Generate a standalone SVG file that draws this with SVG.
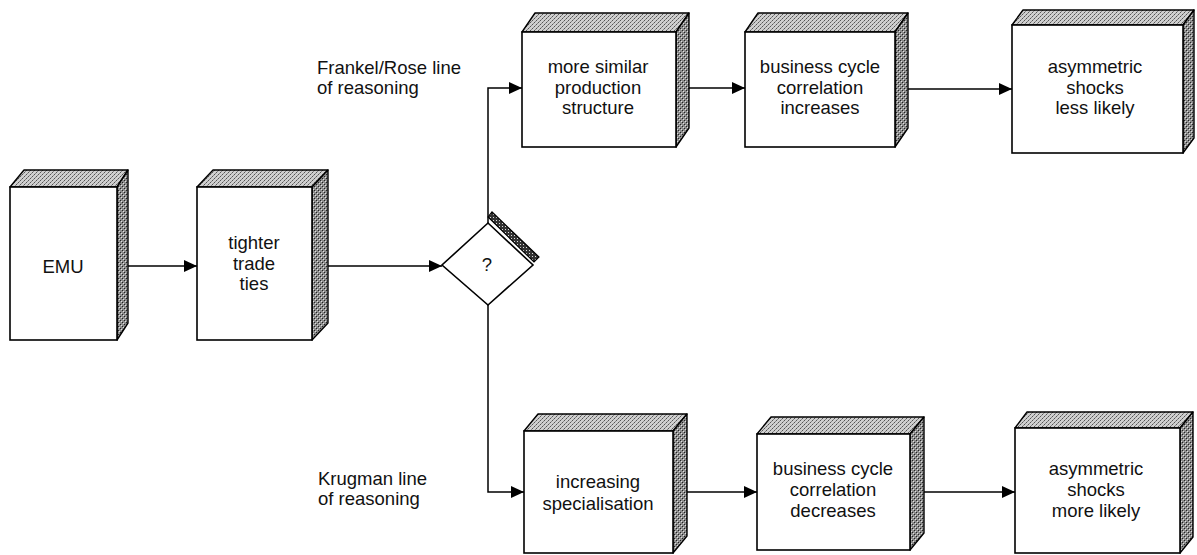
<svg xmlns="http://www.w3.org/2000/svg" width="1197" height="555" viewBox="0 0 1197 555">
  <defs>
    <pattern id="topShade" width="4" height="4" patternUnits="userSpaceOnUse">
      <rect width="4" height="4" fill="#cfcfcf"/>
      <rect x="0" y="0" width="1" height="1" fill="#555"/>
      <rect x="2" y="2" width="1" height="1" fill="#555"/>
      <rect x="3" y="1" width="1" height="1" fill="#888"/>
      <rect x="1" y="3" width="1" height="1" fill="#888"/>
    </pattern>
    <pattern id="sideShade" width="4" height="4" patternUnits="userSpaceOnUse">
      <rect width="4" height="4" fill="#8c8c8c"/>
      <rect x="0" y="0" width="1" height="1" fill="#222"/>
      <rect x="2" y="2" width="1" height="1" fill="#222"/>
      <rect x="1" y="1" width="1" height="1" fill="#e0e0e0"/>
      <rect x="3" y="3" width="1" height="1" fill="#e0e0e0"/>
    </pattern>
    <pattern id="stripShade" width="3" height="3" patternUnits="userSpaceOnUse">
      <rect width="3" height="3" fill="#333"/>
      <rect x="1" y="1" width="1" height="1" fill="#ddd"/>
    </pattern>
    <marker id="arr" markerWidth="13" markerHeight="12" refX="13" refY="6" orient="auto" markerUnits="userSpaceOnUse">
      <path d="M0,0 L13,6 L0,12 z" fill="#000"/>
    </marker>
  </defs>
  <style>
    .front { fill: #fff; stroke: #000; stroke-width: 1.6; }
    .top { fill: url(#topShade); stroke: #000; stroke-width: 1.4; stroke-linejoin: round; }
    .side { fill: url(#sideShade); stroke: #000; stroke-width: 1.4; stroke-linejoin: round; }
    .lbl { font-family: "Liberation Sans", Arial, sans-serif; font-size: 18.5px; fill: #111; text-anchor: middle; }
    .side-lbl { font-family: "Liberation Sans", Arial, sans-serif; font-size: 18.5px; fill: #111; }
    .conn { fill: none; stroke: #000; stroke-width: 1.5; }
  </style>

  <g id="connectors">
    <path class="conn" d="M128,266 H197" marker-end="url(#arr)"/>
    <path class="conn" d="M328,266 H442" marker-end="url(#arr)"/>
    <path class="conn" d="M488,223 V88 H522" marker-end="url(#arr)"/>
    <path class="conn" d="M689,88 H745" marker-end="url(#arr)"/>
    <path class="conn" d="M908,89 H1012" marker-end="url(#arr)"/>
    <path class="conn" d="M488,305 V492 H524" marker-end="url(#arr)"/>
    <path class="conn" d="M687,492 H757" marker-end="url(#arr)"/>
    <path class="conn" d="M924,492 H1015" marker-end="url(#arr)"/>
  </g>

  <g id="node-emu">
    <polygon class="top" points="10,187 24,170 128,170 117,187"/>
    <polygon class="side" points="117,187 128,170 128,323 117,340"/>
    <rect class="front" x="10" y="187" width="107" height="153"/>
    <text class="lbl" x="63" y="273">EMU</text>
  </g>

  <g id="node-trade">
    <polygon class="top" points="197,187 213,170 328,170 312,187"/>
    <polygon class="side" points="312,187 328,170 328,323 312,340"/>
    <rect class="front" x="197" y="187" width="115" height="153"/>
    <text class="lbl" x="254" y="249">tighter</text>
    <text class="lbl" x="254" y="270">trade</text>
    <text class="lbl" x="254" y="290">ties</text>
  </g>

  <g id="node-decision">
    <polygon points="488,217 492,212 539,257 534,262" fill="url(#stripShade)" stroke="#000" stroke-width="1.2"/>
    <polygon points="488,223 533,265 488,305 442,265" fill="#fff" stroke="#000" stroke-width="1.6"/>
    <text class="lbl" x="487" y="271">?</text>
  </g>

  <g id="label-frankel">
    <text class="side-lbl" x="317" y="74">Frankel/Rose line</text>
    <text class="side-lbl" x="317" y="94">of reasoning</text>
  </g>

  <g id="label-krugman">
    <text class="side-lbl" x="318" y="485">Krugman line</text>
    <text class="side-lbl" x="318" y="505">of reasoning</text>
  </g>

  <g id="node-similar">
    <polygon class="top" points="522,32 535,13 689,13 676,32"/>
    <polygon class="side" points="676,32 689,13 689,128 676,147"/>
    <rect class="front" x="522" y="32" width="154" height="115"/>
    <text class="lbl" x="598" y="73">more similar</text>
    <text class="lbl" x="598" y="94">production</text>
    <text class="lbl" x="598" y="114">structure</text>
  </g>

  <g id="node-bc-up">
    <polygon class="top" points="745,32 758,13 908,13 895,32"/>
    <polygon class="side" points="895,32 908,13 908,128 895,147"/>
    <rect class="front" x="745" y="32" width="150" height="115"/>
    <text class="lbl" x="820" y="73">business cycle</text>
    <text class="lbl" x="820" y="94">correlation</text>
    <text class="lbl" x="820" y="114">increases</text>
  </g>

  <g id="node-asym-less">
    <polygon class="top" points="1012,25 1023,10 1194,10 1183,25"/>
    <polygon class="side" points="1183,25 1194,10 1194,138 1183,153"/>
    <rect class="front" x="1012" y="25" width="171" height="128"/>
    <text class="lbl" x="1095" y="73">asymmetric</text>
    <text class="lbl" x="1095" y="94">shocks</text>
    <text class="lbl" x="1095" y="114">less likely</text>
  </g>

  <g id="node-special">
    <polygon class="top" points="524,431 538,414 687,414 673,431"/>
    <polygon class="side" points="673,431 687,414 687,536 673,553"/>
    <rect class="front" x="524" y="431" width="149" height="122"/>
    <text class="lbl" x="598" y="488">increasing</text>
    <text class="lbl" x="598" y="510">specialisation</text>
  </g>

  <g id="node-bc-down">
    <polygon class="top" points="757,434 771,417 924,417 910,434"/>
    <polygon class="side" points="910,434 924,417 924,533 910,550"/>
    <rect class="front" x="757" y="434" width="153" height="116"/>
    <text class="lbl" x="833" y="475">business cycle</text>
    <text class="lbl" x="833" y="496">correlation</text>
    <text class="lbl" x="833" y="517">decreases</text>
  </g>

  <g id="node-asym-more">
    <polygon class="top" points="1015,428 1027,412 1193,412 1180,428"/>
    <polygon class="side" points="1180,428 1193,412 1193,537 1180,553"/>
    <rect class="front" x="1015" y="428" width="165" height="125"/>
    <text class="lbl" x="1096" y="475">asymmetric</text>
    <text class="lbl" x="1096" y="496">shocks</text>
    <text class="lbl" x="1096" y="517">more likely</text>
  </g>
</svg>
